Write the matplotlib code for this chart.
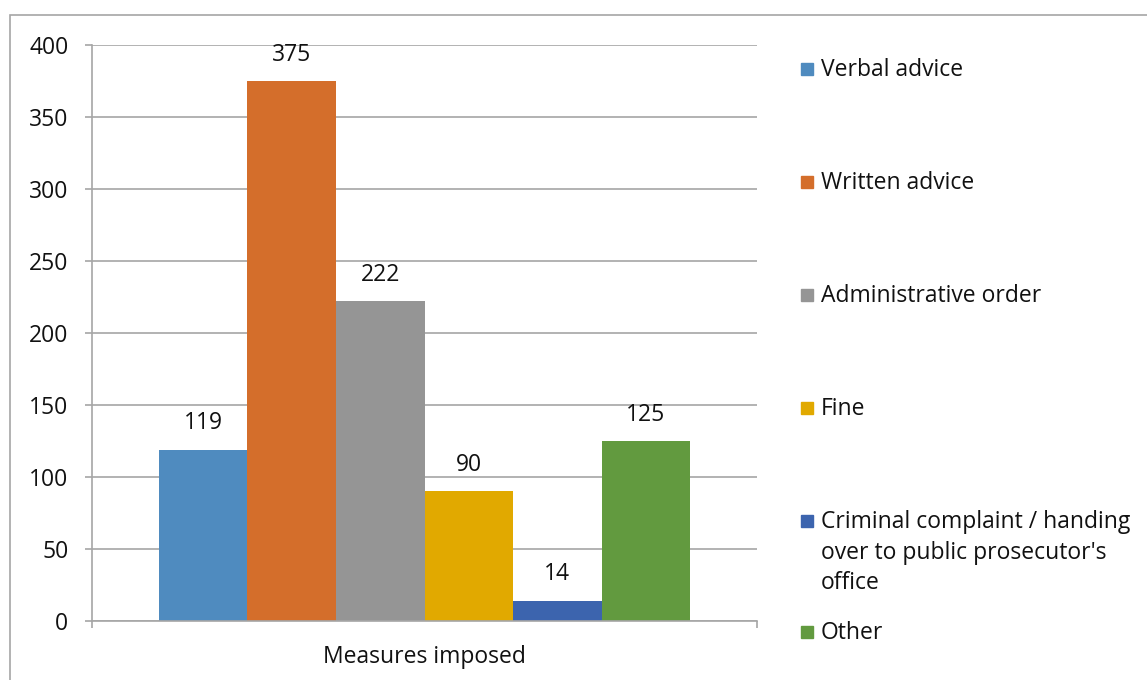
import matplotlib
matplotlib.use('Agg')
import matplotlib.pyplot as plt
from matplotlib.patches import Rectangle

# Data
category = 'Measures imposed'
series = ['Verbal advice', 'Written advice', 'Administrative order', 'Fine',
          "Criminal complaint / handing\nover to public prosecutor's\noffice", 'Other']
values = [119, 375, 222, 90, 14, 125]
colors = ['#4F8BBF', '#D46E2B', '#959595', '#E1A900', '#3C64AE', '#629A3F']
yticks = [0, 50, 100, 150, 200, 250, 300, 350, 400]

plt.rcParams['font.family'] = ['Open Sans', 'DejaVu Sans']
grid_col = '#A6A6A6'
txt_col = '#111111'
fs = 16.5

W, H = 1147, 680
fig = plt.figure(figsize=(W / 100, H / 100), dpi=100)

# outer chart frame (cut off at right and bottom like the reference)
fig.patches.append(Rectangle((10 / W, -0.1), 2, 1 - 15 / H + 0.1, transform=fig.transFigure,
                             fill=False, edgecolor=grid_col, lw=1.2))

ax = fig.add_axes([92 / W, (H - 621) / H, (757 - 92) / W, (621 - 45) / H])

n = len(values)
w = 88.6 / 665
xs = [(i - (n - 1) / 2) * w for i in range(n)]
bars = ax.bar(xs, values, width=w, color=colors, label=series)

for x, v in zip(xs, values):
    ax.annotate(str(v), (x, v), xytext=(0, 19), textcoords='offset points',
                ha='center', va='center', fontsize=fs, color=txt_col)

ax.set_xlim(-0.5, 0.5)
ax.set_ylim(0, 400)
ax.set_yticks(yticks)
ax.yaxis.grid(True, color=grid_col, lw=1.2)
ax.set_axisbelow(True)
ax.tick_params(axis='y', length=5, color=grid_col, width=1.2, pad=12,
               labelsize=fs, labelcolor=txt_col)

ax.set_xticks([-0.5, 0.5])
ax.set_xticklabels(['', ''])
ax.tick_params(axis='x', which='major', length=5, color=grid_col, width=1.2)
ax.set_xticks([0], [category], minor=True)
ax.tick_params(axis='x', which='minor', length=0, pad=17, labelsize=fs, labelcolor=txt_col)

for s in ['top', 'right']:
    ax.spines[s].set_visible(False)
for s in ['left', 'bottom']:
    ax.spines[s].set_color(grid_col)
    ax.spines[s].set_linewidth(1.2)

# legend, laid out like the Excel one
leg_y = [69, 182, 295, 408, 521, 632]
for lab, col, y in zip(series, colors, leg_y):
    fig.patches.append(Rectangle((801 / W, (H - y - 6) / H), 12 / W, 12 / H,
                                 transform=fig.transFigure, color=col))
    fig.text(821 / W, (H - y + 11) / H, lab, ha='left', va='top', fontsize=fs,
             color=txt_col, linespacing=1.37)

fig.savefig('out.png', dpi=100)
